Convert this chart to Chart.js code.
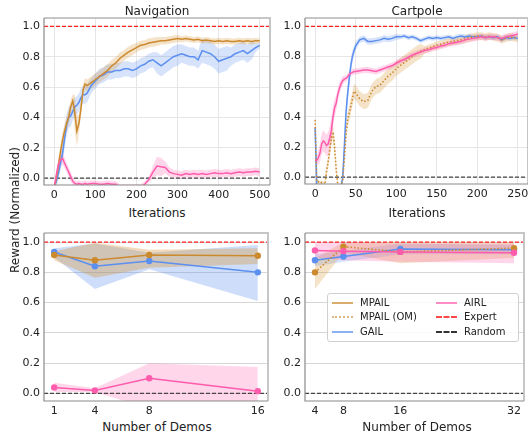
<!DOCTYPE html>
<html>
<head>
<meta charset="utf-8">
<script src="https://cdn.jsdelivr.net/npm/chart.js@4.4.1/dist/chart.umd.min.js"></script>
<style>
  body { margin: 0; width: 528px; height: 434px; overflow: hidden; background: #fff; position: relative; font-family: "DejaVu Sans", sans-serif; }
  .box { position: absolute; }
  .txt { position: absolute; color: #222; white-space: nowrap; font-size: 12px; line-height: 1; transform: translate(-50%, -50%); }
  #legend { position: absolute; left: 327px; top: 293px; width: 190px; height: 47px; border: 1px solid #d0d0d0; border-radius: 3px; background: rgba(255,255,255,0.85); font-size: 10px; color: #222; }
  #legend .it { position: absolute; height: 12px; line-height: 12px; white-space: nowrap; }
  #legend .sw { position: absolute; top: 5px; width: 21px; height: 0; }
  #legend .lb { position: absolute; left: 28px; top: 0; }
</style>
</head>
<body>
<div class="box" style="left:0;top:0;width:272px;height:200px"><canvas id="navChart"></canvas></div>
<div class="box" style="left:260px;top:0;width:268px;height:200px"><canvas id="cartChart"></canvas></div>
<div class="box" style="left:0;top:220px;width:272px;height:200px"><canvas id="navDemoChart"></canvas></div>
<div class="box" style="left:260px;top:220px;width:268px;height:200px"><canvas id="cartDemoChart"></canvas></div>

<div class="txt" style="left:157px;top:11px">Navigation</div>
<div class="txt" style="left:417px;top:11px">Cartpole</div>
<div class="txt" style="left:157px;top:213px">Iterations</div>
<div class="txt" style="left:417px;top:213px">Iterations</div>
<div class="txt" style="left:157px;top:427px">Number of Demos</div>
<div class="txt" style="left:417px;top:427px">Number of Demos</div>
<div class="txt" style="left:15px;top:210px;transform:translate(-50%,-50%) rotate(-90deg)">Reward (Normalized)</div>

<div id="legend">
  <div class="it" style="left:4px;top:3px"><div class="sw" style="border-top:2px solid rgba(204,138,46,0.7)"></div><span class="lb">MPAIL</span></div>
  <div class="it" style="left:4px;top:17px"><div class="sw" style="border-top:2px dotted rgba(204,138,46,0.6)"></div><span class="lb">MPAIL (OM)</span></div>
  <div class="it" style="left:4px;top:32px"><div class="sw" style="border-top:2px solid rgba(91,143,240,0.7)"></div><span class="lb">GAIL</span></div>
  <div class="it" style="left:108px;top:3px"><div class="sw" style="border-top:2px solid rgba(255,92,173,0.7)"></div><span class="lb">AIRL</span></div>
  <div class="it" style="left:108px;top:17px"><div class="sw" style="border-top:2px dashed rgba(255,40,40,0.85)"></div><span class="lb">Expert</span></div>
  <div class="it" style="left:108px;top:32px"><div class="sw" style="border-top:2px dashed #333"></div><span class="lb">Random</span></div>
</div>

<script>
const EXPERT = 1.0;
const RANDOM = 0.0;
const Y_TICKS = [0.0, 0.2, 0.4, 0.6, 0.8, 1.0];

// Navigation, reward vs iterations
const NAV_ITERS = [0,5,10,15,20,25,30,35,40,45,50,55,60,65,70,75,80,
  90,100,110,120,130,140,150,160,170,180,190,200,210,220,230,240,250,260,270,280,290,300,
  310,320,330,340,350,360,370,380,390,400,410,420,430,440,450,460,470,480,490,500];
const NAV_X_TICKS = [0, 100, 200, 300, 400, 500];
const NAV_MPAIL = [-0.06,0.0,0.08,0.17,0.25,0.31,0.36,0.40,0.47,0.51,0.43,0.31,0.36,0.46,0.58,0.62,0.61,
  0.63,0.65,0.67,0.69,0.71,0.74,0.76,0.79,0.81,0.83,0.845,0.86,0.875,0.88,0.89,0.895,0.90,0.905,0.905,0.91,0.915,0.92,
  0.915,0.92,0.915,0.91,0.915,0.905,0.91,0.905,0.90,0.905,0.90,0.905,0.90,0.90,0.905,0.90,0.905,0.90,0.905,0.905];
const NAV_MPAIL_SD = [0.02,0.04,0.05,0.05,0.05,0.05,0.05,0.05,0.05,0.04,0.12,0.10,0.06,0.05,0.04,0.04,0.04,
  0.04,0.04,0.04,0.04,0.04,0.04,0.04,0.04,0.035,0.035,0.035,0.03,0.03,0.03,0.03,0.03,0.03,0.025,0.025,0.025,0.025,0.025,
  0.02,0.02,0.02,0.02,0.02,0.02,0.02,0.02,0.02,0.02,0.02,0.02,0.02,0.02,0.02,0.02,0.02,0.02,0.02,0.015];
const NAV_GAIL = [-0.06,-0.02,0.03,0.10,0.16,0.26,0.35,0.40,0.41,0.44,0.47,0.48,0.50,0.53,0.55,0.55,0.56,
  0.61,0.64,0.67,0.68,0.70,0.70,0.71,0.71,0.72,0.72,0.71,0.72,0.74,0.75,0.77,0.78,0.76,0.74,0.76,0.78,0.80,0.81,
  0.82,0.81,0.80,0.80,0.78,0.84,0.83,0.82,0.80,0.77,0.78,0.79,0.80,0.82,0.83,0.84,0.82,0.84,0.86,0.875];
const NAV_GAIL_SD = [0.02,0.03,0.04,0.05,0.06,0.07,0.07,0.07,0.07,0.06,0.06,0.06,0.06,0.06,0.06,0.06,0.06,
  0.05,0.05,0.05,0.05,0.05,0.05,0.05,0.05,0.05,0.05,0.05,0.05,0.05,0.05,0.05,0.05,0.07,0.07,0.07,0.07,0.07,0.07,
  0.06,0.06,0.06,0.06,0.06,0.08,0.08,0.08,0.08,0.08,0.08,0.08,0.06,0.06,0.06,0.06,0.06,0.06,0.03,0.02];
const NAV_AIRL = [-0.06,0.02,0.09,0.12,0.13,0.10,0.07,0.04,0.01,-0.02,-0.035,-0.04,-0.035,-0.04,-0.04,-0.035,-0.04,
  -0.035,-0.035,-0.04,-0.04,-0.035,-0.04,-0.04,-0.06,-0.06,-0.06,-0.06,-0.06,-0.06,-0.04,-0.01,0.04,0.08,0.075,0.07,0.04,0.03,0.025,
  0.02,0.03,0.025,0.03,0.025,0.03,0.025,0.03,0.035,0.03,0.03,0.035,0.03,0.035,0.04,0.035,0.04,0.04,0.045,0.04];
const NAV_AIRL_SD = [0.01,0.03,0.04,0.04,0.04,0.035,0.03,0.03,0.03,0.03,0.02,0.02,0.02,0.02,0.02,0.02,0.02,
  0.02,0.02,0.02,0.02,0.02,0.02,0.02,0.02,0.02,0.02,0.02,0.02,0.02,0.02,0.02,0.04,0.06,0.06,0.04,0.03,0.025,0.025,
  0.025,0.025,0.025,0.025,0.025,0.025,0.025,0.025,0.025,0.025,0.025,0.025,0.025,0.025,0.025,0.025,0.025,0.025,0.025,0.025];

// Cartpole, reward vs iterations
const CART_ITERS = [0,2,4,6,8,10,12,14,16,18,20,22,24,26,28,30,32,34,36,38,40,42,44,46,48,50,
  55,60,65,70,75,80,85,90,95,100,105,110,115,120,125,130,135,140,145,150,
  155,160,165,170,175,180,185,190,195,200,205,210,215,220,225,230,235,240,245,250];
const CART_X_TICKS = [0, 50, 100, 150, 200, 250];
const CART_OM = [0.38,-0.03,-0.03,-0.04,-0.035,-0.04,-0.05,0.04,0.10,0.18,0.26,0.30,0.20,0.05,-0.06,-0.06,-0.06,-0.02,0.12,0.28,0.38,0.42,0.47,0.52,0.57,0.56,
  0.52,0.50,0.51,0.57,0.60,0.61,0.64,0.67,0.69,0.72,0.74,0.76,0.78,0.80,0.82,0.835,0.845,0.855,0.865,0.875,
  0.88,0.89,0.895,0.90,0.905,0.91,0.915,0.925,0.93,0.935,0.935,0.93,0.935,0.93,0.925,0.91,0.92,0.93,0.925,0.92];
const CART_OM_SD = [0.02,0.01,0.01,0.01,0.01,0.01,0.01,0.03,0.04,0.05,0.05,0.05,0.05,0.04,0.01,0.01,0.01,0.01,0.04,0.05,0.05,0.05,0.05,0.05,0.05,0.05,
  0.05,0.05,0.05,0.05,0.05,0.05,0.05,0.05,0.05,0.05,0.05,0.05,0.05,0.05,0.05,0.05,0.025,0.025,0.025,0.025,
  0.025,0.025,0.025,0.025,0.025,0.025,0.025,0.025,0.025,0.025,0.025,0.025,0.025,0.025,0.025,0.025,0.025,0.025,0.025,0.025];
const CART_GAIL = [0.33,-0.06,-0.06,-0.06,-0.06,-0.06,-0.06,-0.06,-0.06,-0.06,-0.06,-0.06,-0.06,-0.06,-0.06,-0.06,-0.06,0.0,0.20,0.42,0.55,0.65,0.74,0.80,0.84,0.87,
  0.91,0.92,0.90,0.90,0.905,0.91,0.92,0.915,0.92,0.93,0.93,0.935,0.925,0.93,0.92,0.905,0.915,0.925,0.92,0.925,
  0.92,0.925,0.93,0.92,0.93,0.935,0.93,0.935,0.93,0.93,0.935,0.925,0.93,0.925,0.93,0.91,0.925,0.92,0.925,0.92];
const CART_GAIL_SD = [0.01,0.01,0.01,0.01,0.01,0.01,0.01,0.01,0.01,0.01,0.01,0.01,0.01,0.01,0.01,0.01,0.01,0.03,0.05,0.06,0.06,0.05,0.05,0.04,0.03,0.03,
  0.02,0.02,0.02,0.02,0.02,0.02,0.02,0.02,0.02,0.02,0.015,0.015,0.015,0.015,0.015,0.015,0.015,0.015,0.015,0.015,
  0.015,0.015,0.015,0.015,0.015,0.015,0.015,0.015,0.015,0.015,0.015,0.015,0.015,0.015,0.015,0.015,0.015,0.015,0.015,0.015];
const CART_AIRL = [0.11,0.11,0.13,0.16,0.22,0.24,0.23,0.21,0.22,0.26,0.31,0.40,0.46,0.49,0.55,0.59,0.62,0.64,0.65,0.655,0.665,0.68,0.69,0.695,0.70,0.70,
  0.705,0.71,0.71,0.705,0.70,0.71,0.72,0.73,0.74,0.755,0.77,0.78,0.795,0.81,0.82,0.83,0.84,0.845,0.855,0.86,
  0.87,0.875,0.885,0.89,0.895,0.90,0.91,0.915,0.92,0.925,0.93,0.925,0.93,0.93,0.925,0.92,0.93,0.935,0.94,0.95];
const CART_AIRL_SD = [0.01,0.02,0.05,0.06,0.07,0.07,0.07,0.07,0.08,0.08,0.08,0.07,0.06,0.05,0.04,0.04,0.03,0.03,0.02,0.02,0.02,0.02,0.02,0.02,0.02,0.02,
  0.02,0.02,0.02,0.02,0.02,0.02,0.02,0.02,0.02,0.02,0.02,0.02,0.02,0.02,0.02,0.02,0.02,0.02,0.02,0.02,
  0.02,0.02,0.02,0.02,0.02,0.02,0.02,0.02,0.02,0.02,0.02,0.02,0.02,0.02,0.02,0.02,0.02,0.02,0.02,0.02];

// Reward vs number of demos
const NAV_DEMOS = [1, 4, 8, 16];
const NAV_DEMO_MPAIL = [0.915, 0.88, 0.915, 0.91];
const NAV_DEMO_MPAIL_LO = [0.88, 0.765, 0.83, 0.855];
const NAV_DEMO_MPAIL_HI = [0.94, 0.995, 0.95, 0.96];
const NAV_DEMO_GAIL = [0.935, 0.84, 0.875, 0.80];
const NAV_DEMO_GAIL_LO = [0.90, 0.69, 0.82, 0.61];
const NAV_DEMO_GAIL_HI = [0.96, 0.99, 0.93, 0.98];
const NAV_DEMO_AIRL = [0.04, 0.02, 0.10, 0.015];
const NAV_DEMO_AIRL_LO = [0.01, 0.01, -0.10, -0.15];
const NAV_DEMO_AIRL_HI = [0.07, 0.035, 0.20, 0.175];

const CART_DEMOS = [4, 8, 16, 32];
const CART_DEMO_OM = [0.80, 0.97, 0.935, 0.96];
const CART_DEMO_OM_LO = [0.69, 0.93, 0.86, 0.895];
const CART_DEMO_OM_HI = [0.89, 1.0, 1.0, 1.0];
const CART_DEMO_GAIL = [0.88, 0.905, 0.955, 0.95];
const CART_DEMO_GAIL_LO = [0.84, 0.87, 0.92, 0.92];
const CART_DEMO_GAIL_HI = [0.92, 0.94, 0.99, 0.98];
const CART_DEMO_AIRL = [0.945, 0.94, 0.935, 0.93];
const CART_DEMO_AIRL_LO = [0.90, 0.88, 0.87, 0.86];
const CART_DEMO_AIRL_HI = [1.0, 1.0, 0.99, 0.99];

const GOLD = "#cc8a2e", BLUE = "#5b8ff0", PINK = "#ff5cad";
const GOLD_BAND = "rgba(214,150,60,0.28)", BLUE_BAND = "rgba(91,143,240,0.25)", PINK_BAND = "rgba(255,92,173,0.25)";

Chart.defaults.font.family = "'DejaVu Sans', sans-serif";
Chart.defaults.color = "#222";

const pts = (xs, ys) => xs.map((x, i) => ({ x, y: ys[i] }));

function line(xs, ys, color, opts = {}) {
  return Object.assign({
    data: pts(xs, ys), borderColor: color, backgroundColor: color,
    borderWidth: 1.5, pointRadius: 0, fill: false, tension: 0
  }, opts);
}

// lower edge, then upper edge filled down to it
function band(xs, lo, hi, color) {
  return [
    { data: pts(xs, lo), borderWidth: 0, pointRadius: 0, fill: false },
    { data: pts(xs, hi), borderWidth: 0, pointRadius: 0, fill: "-1", backgroundColor: color }
  ];
}

function refLines(xmin, xmax) {
  return [
    line([xmin, xmax], [EXPERT, EXPERT], "#ff2020", { borderWidth: 1.3, borderDash: [4, 2] }),
    line([xmin, xmax], [RANDOM, RANDOM], "#444", { borderWidth: 1.2, borderDash: [4, 2] })
  ];
}

const spines = {
  id: "spines",
  afterDraw(chart) {
    const { ctx, chartArea: a } = chart;
    ctx.save();
    ctx.strokeStyle = "#c6c6c6";
    ctx.lineWidth = 2;
    ctx.beginPath();
    ctx.moveTo(a.left, a.top); ctx.lineTo(a.right, a.top); ctx.lineTo(a.right, a.bottom);
    ctx.stroke();
    ctx.strokeStyle = "#8a8a8a";
    ctx.lineWidth = 1.2;
    ctx.beginPath();
    ctx.moveTo(a.left, a.top); ctx.lineTo(a.left, a.bottom); ctx.lineTo(a.right, a.bottom);
    ctx.stroke();
    ctx.restore();
  }
};

function makeChart(canvasId, c) {
  return new Chart(document.getElementById(canvasId), {
    type: "line",
    data: { datasets: c.datasets },
    options: {
      responsive: true,
      maintainAspectRatio: false,
      animation: false,
      layout: { padding: { top: c.padTop, right: c.padRight, left: 0, bottom: 0 } },
      plugins: { legend: { display: false }, tooltip: { enabled: false } },
      scales: {
        x: {
          type: "linear", min: c.xmin, max: c.xmax,
          grid: { display: c.xGrid, color: c.gridColor, drawTicks: false },
          border: { display: false },
          ticks: { padding: 4, autoSkip: false, maxRotation: 0, font: { size: 11 }, callback: (v) => String(v) },
          afterBuildTicks: (s) => { s.ticks = c.xTicks.map((v) => ({ value: v })); },
          afterFit: (s) => { s.height = c.xH; s.paddingLeft = 0; s.paddingRight = 0; }
        },
        y: {
          min: c.ymin, max: c.ymax,
          grid: { color: c.gridColor, drawTicks: false },
          border: { display: false },
          ticks: { padding: 4, font: { size: 11 }, callback: (v) => v.toFixed(1) },
          afterBuildTicks: (s) => { s.ticks = Y_TICKS.map((v) => ({ value: v })); },
          afterFit: (s) => { s.width = c.yW; s.paddingTop = 0; s.paddingBottom = 0; }
        }
      }
    },
    plugins: [spines]
  });
}

const sdLo = (m, sd) => m.map((v, i) => v - sd[i]);
const sdHi = (m, sd) => m.map((v, i) => v + sd[i]);

makeChart("navChart", {
  xmin: -25, xmax: 525, ymin: -0.045, ymax: 1.055, xTicks: NAV_X_TICKS,
  yW: 44, xH: 15, padTop: 18, padRight: 2, xGrid: true, gridColor: "#e6e6e6",
  datasets: [
    line(NAV_ITERS, NAV_AIRL, PINK),
    line(NAV_ITERS, NAV_MPAIL, GOLD),
    line(NAV_ITERS, NAV_GAIL, BLUE),
    ...refLines(-25, 525),
    ...band(NAV_ITERS, sdLo(NAV_AIRL, NAV_AIRL_SD), sdHi(NAV_AIRL, NAV_AIRL_SD), PINK_BAND),
    ...band(NAV_ITERS, sdLo(NAV_MPAIL, NAV_MPAIL_SD), sdHi(NAV_MPAIL, NAV_MPAIL_SD), GOLD_BAND),
    ...band(NAV_ITERS, sdLo(NAV_GAIL, NAV_GAIL_SD), sdHi(NAV_GAIL, NAV_GAIL_SD), BLUE_BAND)
  ]
});

makeChart("cartChart", {
  xmin: -12.5, xmax: 262.5, ymin: -0.045, ymax: 1.055, xTicks: CART_X_TICKS,
  yW: 45, xH: 16, padTop: 18, padRight: 0, xGrid: true, gridColor: "#e6e6e6",
  datasets: [
    line(CART_ITERS, CART_AIRL, PINK),
    line(CART_ITERS, CART_OM, GOLD, { borderDash: [1.5, 2], borderWidth: 1.6 }),
    line(CART_ITERS, CART_GAIL, BLUE),
    ...refLines(-12.5, 262.5),
    ...band(CART_ITERS, sdLo(CART_AIRL, CART_AIRL_SD), sdHi(CART_AIRL, CART_AIRL_SD), PINK_BAND),
    ...band(CART_ITERS, sdLo(CART_OM, CART_OM_SD), sdHi(CART_OM, CART_OM_SD), GOLD_BAND),
    ...band(CART_ITERS, sdLo(CART_GAIL, CART_GAIL_SD), sdHi(CART_GAIL, CART_GAIL_SD), BLUE_BAND)
  ]
});

const marker = (color) => ({ pointRadius: 3.2, pointBorderWidth: 0, pointBackgroundColor: color });

makeChart("navDemoChart", {
  xmin: 0.25, xmax: 16.75, ymin: -0.05, ymax: 1.06, xTicks: NAV_DEMOS,
  yW: 44, xH: 19, padTop: 13, padRight: 3, xGrid: false, gridColor: "#d6d6d6",
  datasets: [
    line(NAV_DEMOS, NAV_DEMO_AIRL, PINK, marker(PINK)),
    line(NAV_DEMOS, NAV_DEMO_MPAIL, GOLD, marker(GOLD)),
    line(NAV_DEMOS, NAV_DEMO_GAIL, BLUE, marker(BLUE)),
    ...refLines(0.25, 16.75),
    ...band(NAV_DEMOS, NAV_DEMO_AIRL_LO, NAV_DEMO_AIRL_HI, PINK_BAND),
    ...band(NAV_DEMOS, NAV_DEMO_MPAIL_LO, NAV_DEMO_MPAIL_HI, "rgba(214,150,60,0.35)"),
    ...band(NAV_DEMOS, NAV_DEMO_GAIL_LO, NAV_DEMO_GAIL_HI, "rgba(91,143,240,0.3)")
  ]
});

makeChart("cartDemoChart", {
  xmin: 2.6, xmax: 33.4, ymin: -0.05, ymax: 1.06, xTicks: CART_DEMOS,
  yW: 45, xH: 19, padTop: 13, padRight: 0, xGrid: false, gridColor: "#d6d6d6",
  datasets: [
    line(CART_DEMOS, CART_DEMO_AIRL, PINK, marker(PINK)),
    line(CART_DEMOS, CART_DEMO_OM, GOLD, Object.assign({ borderDash: [1.5, 2], borderWidth: 1.6 }, marker(GOLD))),
    line(CART_DEMOS, CART_DEMO_GAIL, BLUE, marker(BLUE)),
    ...refLines(2.6, 33.4),
    ...band(CART_DEMOS, CART_DEMO_AIRL_LO, CART_DEMO_AIRL_HI, PINK_BAND),
    ...band(CART_DEMOS, CART_DEMO_OM_LO, CART_DEMO_OM_HI, GOLD_BAND),
    ...band(CART_DEMOS, CART_DEMO_GAIL_LO, CART_DEMO_GAIL_HI, BLUE_BAND)
  ]
});
</script>
</body>
</html>
